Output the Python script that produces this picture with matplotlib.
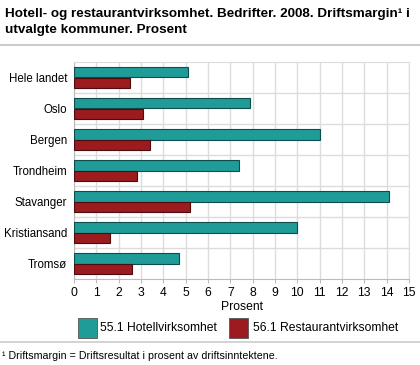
import numpy as np
import matplotlib.pyplot as plt
from matplotlib.patches import Rectangle
from matplotlib.lines import Line2D

# Data
kommuner = ["Hele landet", "Oslo", "Bergen", "Trondheim", "Stavanger", "Kristiansand", "Tromsø"]
hotell = [5.1, 7.9, 11.0, 7.4, 14.1, 10.0, 4.7]
restaurant = [2.5, 3.1, 3.4, 2.8, 5.2, 1.6, 2.6]
serie_navn = ["55.1 Hotellvirksomhet", "56.1 Restaurantvirksomhet"]
farger = ["#1f9b98", "#9b1b1e"]

plt.rcParams['font.family'] = ['Liberation Sans', 'DejaVu Sans']

fig = plt.figure(figsize=(4.2, 3.65), dpi=100)
ax = fig.add_axes([74/420, 1 - 279/365, 335/420, 217/365])

y = np.arange(len(kommuner))
h = 0.35
ax.barh(y - h/2, hotell, height=h, color=farger[0], edgecolor="#0f4d4c", linewidth=0.8, zorder=3)
ax.barh(y + h/2, restaurant, height=h, color=farger[1], edgecolor="#4d0d0f", linewidth=0.8, zorder=3)

ax.set_xlim(0, 15)
ax.set_ylim(len(kommuner) - 0.5, -0.5)
ax.set_xticks(range(0, 16))
ax.set_yticks(y)
ax.set_yticklabels(kommuner, fontsize=8.3)
ax.tick_params(axis='x', labelsize=8.7, length=3, color="#bbbbbb", pad=3)
ax.tick_params(axis='y', length=0, pad=5)

# grid
ax.set_axisbelow(True)
ax.grid(axis='x', color="#dcdcdc", linewidth=1)
for b in np.arange(0.5, len(kommuner) - 1, 1):
    ax.axhline(b, color="#dcdcdc", linewidth=1, zorder=1)
for s in ["top", "right"]:
    ax.spines[s].set_color("#dcdcdc")
for s in ["left", "bottom"]:
    ax.spines[s].set_color("#bbbbbb")

ax.set_xlabel("Prosent", fontsize=8.7, labelpad=1)

# title
fig.text(5/420, 1 - 17/365, "Hotell- og restaurantvirksomhet. Bedrifter. 2008. Driftsmargin\u00b9 i",
         fontsize=9.7, fontweight="bold", va="baseline")
fig.text(5/420, 1 - 33/365, "utvalgte kommuner. Prosent",
         fontsize=9.7, fontweight="bold", va="baseline")
fig.add_artist(Line2D([0, 1], [1 - 45/365] * 2, color="#cccccc", linewidth=1.5))

# legend
for i, (x0, tx) in enumerate([(78, 100), (229, 253)]):
    fig.add_artist(Rectangle((x0/420, 1 - 338/365), 19/420, 20/365, facecolor=farger[i],
                             edgecolor="#555555", linewidth=0.6, transform=fig.transFigure))
    fig.text(tx/420, 1 - 328/365, serie_navn[i], fontsize=8.7, va="center")

# footnote
fig.add_artist(Line2D([0, 1], [1 - 342/365] * 2, color="#cccccc", linewidth=1.2))
fig.text(2/420, 1 - 356/365, "\u00b9 Driftsmargin = Driftsresultat i prosent av driftsinntektene.",
         fontsize=7.7, va="center")

fig.savefig("out.png", dpi=100)
